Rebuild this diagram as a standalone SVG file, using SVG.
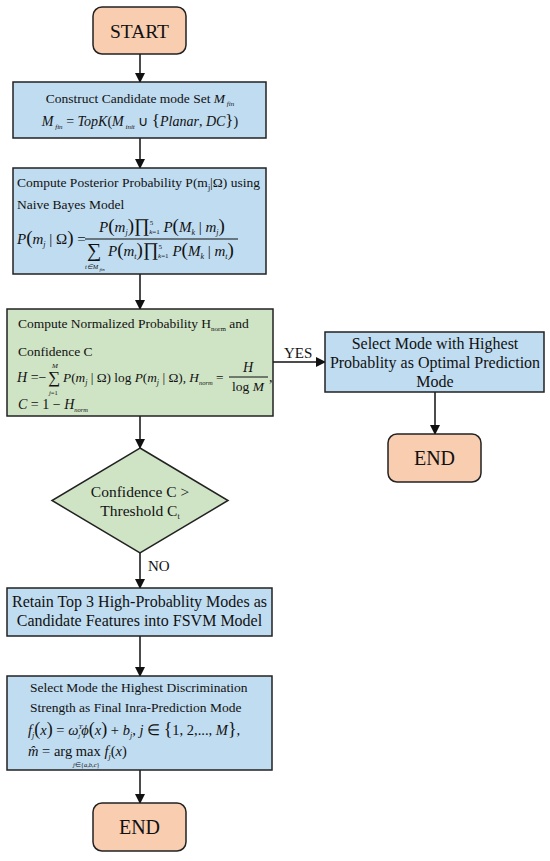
<svg xmlns="http://www.w3.org/2000/svg" width="550" height="861" viewBox="0 0 550 861">
<defs>
<marker id="ah" markerWidth="10" markerHeight="10" refX="9" refY="5" orient="auto" markerUnits="userSpaceOnUse">
<path d="M0,0 L10,5 L0,10 Z" fill="#111"/>
</marker>
<style>
.term{fill:#f8cdb0;stroke:#222;stroke-width:1.5}
.blue{fill:#c0dcf0;stroke:#222;stroke-width:1.5}
.green{fill:#cfe3c5;stroke:#222;stroke-width:1.5}
.t{font-family:"Liberation Serif","Times New Roman",serif;fill:#111}
.m{font-family:"Liberation Serif","Times New Roman",serif;font-style:italic;fill:#111}
.c{stroke:#111;stroke-width:1.5;fill:none;marker-end:url(#ah)}
</style>
</defs>
<rect width="550" height="861" fill="#fff"/>

<g id="connectors">
<line class="c" x1="140" y1="54" x2="140" y2="82"/>
<line class="c" x1="140" y1="138" x2="140" y2="168"/>
<line class="c" x1="140" y1="274" x2="140" y2="309"/>
<line class="c" x1="273" y1="362" x2="325" y2="362"/>
<text class="t" x="284" y="358" font-size="15">YES</text>
<line class="c" x1="435" y1="392" x2="435" y2="434"/>
<line class="c" x1="140" y1="416" x2="140" y2="448"/>
<line class="c" x1="140" y1="553" x2="140" y2="588"/>
<text class="t" x="148" y="571" font-size="15">NO</text>
<line class="c" x1="140" y1="636" x2="140" y2="676"/>
<line class="c" x1="140" y1="770" x2="140" y2="803"/>
</g>

<g id="start">
<rect class="term" x="93" y="7" width="93" height="47" rx="9"/>
<text class="t" x="139.5" y="38" font-size="19.5" text-anchor="middle">START</text>
</g>

<g id="construct">
<rect class="blue" x="13" y="82" width="253" height="56"/>
<text class="t" x="140" y="103" font-size="13.5" text-anchor="middle">Construct Candidate mode Set <tspan class="m">M</tspan><tspan class="m" font-size="7" dy="3"> fin</tspan></text>
<text class="t" x="140" y="126" font-size="14" text-anchor="middle"><tspan class="m">M</tspan><tspan class="m" font-size="7" dy="3"> fin</tspan><tspan dy="-3"> = </tspan><tspan class="m">TopK</tspan>(<tspan class="m">M</tspan><tspan class="m" font-size="7" dy="3"> init</tspan><tspan dy="-3"> ∪ </tspan><tspan font-size="17">{</tspan><tspan class="m">Planar</tspan>, <tspan class="m">DC</tspan><tspan font-size="17">}</tspan>)</text>
</g>

<g id="posterior">
<rect class="blue" x="13" y="168" width="253" height="106"/>
<text class="t" x="17" y="187" font-size="13.5">Compute Posterior Probability P(m<tspan font-size="8" dy="3">j</tspan><tspan dy="-3">|Ω) using</tspan></text>
<text class="t" x="17" y="209" font-size="13.5">Naive Bayes Model</text>
<text class="t" x="17" y="244" font-size="15"><tspan class="m">P</tspan><tspan font-size="19">(</tspan><tspan class="m">m</tspan><tspan class="m" font-size="8" dy="3">j</tspan><tspan dy="-3"> | Ω</tspan><tspan font-size="19">)</tspan> =</text>
<line x1="85" y1="239" x2="238" y2="239" stroke="#111" stroke-width="1"/>
<text class="t" x="162" y="232" font-size="15" text-anchor="middle"><tspan class="m">P</tspan><tspan font-size="19">(</tspan><tspan class="m">m</tspan><tspan class="m" font-size="8" dy="3">j</tspan><tspan font-size="19" dy="-3">)</tspan><tspan font-size="19">∏</tspan><tspan font-size="7" dy="-7">5</tspan><tspan font-size="7" dx="-4" dy="9" class="m">k</tspan><tspan font-size="7" dy="0">=1</tspan><tspan class="m" dy="-2"> P</tspan><tspan font-size="19">(</tspan><tspan class="m">M</tspan><tspan class="m" font-size="8" dy="3">k</tspan><tspan dy="-3"> | </tspan><tspan class="m">m</tspan><tspan class="m" font-size="8" dy="3">j</tspan><tspan font-size="19" dy="-3">)</tspan></text>
<text class="t" x="87" y="257" font-size="20">∑</text>
<text class="m" x="85" y="269" font-size="6.5">t∈M<tspan font-size="5" dy="2"> fin</tspan></text>
<text class="t" x="108" y="256" font-size="15"><tspan class="m">P</tspan><tspan font-size="19">(</tspan><tspan class="m">m</tspan><tspan class="m" font-size="8" dy="3">t</tspan><tspan font-size="19" dy="-3">)</tspan><tspan font-size="19">∏</tspan><tspan font-size="7" dy="-7">5</tspan><tspan font-size="7" dx="-4" dy="9" class="m">k</tspan><tspan font-size="7" dy="0">=1</tspan><tspan class="m" dy="-2"> P</tspan><tspan font-size="19">(</tspan><tspan class="m">M</tspan><tspan class="m" font-size="8" dy="3">k</tspan><tspan dy="-3"> | </tspan><tspan class="m">m</tspan><tspan class="m" font-size="8" dy="3">t</tspan><tspan font-size="19" dy="-3">)</tspan></text>
</g>

<g id="normalize">
<rect class="green" x="7" y="309" width="266" height="107"/>
<text class="t" x="18" y="328" font-size="13.5">Compute Normalized Probability H<tspan font-size="7" dy="3">norm</tspan><tspan dy="-3">  and</tspan></text>
<text class="t" x="18" y="356" font-size="13.5">Confidence C</text>
<text class="t" x="17" y="382" font-size="14"><tspan class="m">H</tspan> =−</text>
<text class="t" x="48" y="383" font-size="17">∑</text>
<text class="m" x="52" y="368" font-size="7">M</text>
<text class="t" x="49" y="395" font-size="6.5"><tspan class="m">j</tspan>=1</text>
<text class="t" x="63" y="382" font-size="13.3"><tspan class="m">P</tspan>(<tspan class="m">m</tspan><tspan class="m" font-size="8" dy="3">j</tspan><tspan dy="-3"> | Ω) log </tspan><tspan class="m">P</tspan>(<tspan class="m">m</tspan><tspan class="m" font-size="8" dy="3">j</tspan><tspan dy="-3"> | Ω), </tspan><tspan class="m">H</tspan><tspan class="m" font-size="6.5" dy="3">norm</tspan><tspan dy="-3"> =</tspan></text>
<line x1="229" y1="377" x2="268" y2="377" stroke="#111" stroke-width="1"/>
<text class="m" x="248" y="372" font-size="14" text-anchor="middle">H</text>
<text class="t" x="248" y="391" font-size="13.5" text-anchor="middle">log  <tspan class="m">M</tspan></text>
<text class="t" x="269" y="382" font-size="14">,</text>
<text class="t" x="18" y="409" font-size="14"><tspan class="m">C</tspan> = 1 − <tspan class="m">H</tspan><tspan class="m" font-size="6.5" dy="3">norm</tspan></text>
</g>

<g id="select-optimal">
<rect class="blue" x="325" y="332" width="219" height="60"/>
<text class="t" x="435" y="349" font-size="16" text-anchor="middle">Select Mode with Highest</text>
<text class="t" x="435" y="368" font-size="16" text-anchor="middle">Probablity as Optimal Prediction</text>
<text class="t" x="435" y="387" font-size="16" text-anchor="middle">Mode</text>
</g>

<g id="end-right">
<rect class="term" x="388" y="434" width="93" height="48" rx="9"/>
<text class="t" x="434.5" y="465" font-size="20" text-anchor="middle">END</text>
</g>

<g id="decision">
<polygon class="green" points="140,448 228,500.5 140,553 52,500.5"/>
<text class="t" x="140" y="497" font-size="15.5" text-anchor="middle">Confidence C &gt;</text>
<text class="t" x="140" y="516" font-size="15.5" text-anchor="middle">Threshold C<tspan font-size="8" dy="3">t</tspan></text>
</g>

<g id="retain">
<rect class="blue" x="7" y="588" width="265" height="48"/>
<text class="t" x="139.5" y="607" font-size="16" text-anchor="middle">Retain Top 3 High-Probablity Modes as</text>
<text class="t" x="139.5" y="626" font-size="16" text-anchor="middle">Candidate Features into FSVM Model</text>
</g>

<g id="select-final">
<rect class="blue" x="7" y="676" width="265" height="94"/>
<text class="t" x="30" y="692" font-size="13.5">Select Mode the Highest Discrimination</text>
<text class="t" x="30" y="712" font-size="13.5">Strength as Final Inra-Prediction Mode</text>
<text class="t" x="28" y="735" font-size="14.5"><tspan class="m">f</tspan><tspan class="m" font-size="8" dy="3">j</tspan><tspan font-size="18" dy="-3">(</tspan><tspan class="m">x</tspan><tspan font-size="18">)</tspan> = <tspan class="m">ω</tspan><tspan class="m" font-size="7" dy="-6">T</tspan><tspan class="m" font-size="7" dx="-4" dy="9">j</tspan><tspan class="m" dx="1" dy="-3">ϕ</tspan><tspan font-size="18">(</tspan><tspan class="m">x</tspan><tspan font-size="18">)</tspan> + <tspan class="m">b</tspan><tspan class="m" font-size="8" dy="3">j</tspan><tspan dy="-3">, </tspan><tspan class="m">j</tspan> ∈ <tspan font-size="18">{</tspan>1, 2,..., <tspan class="m">M</tspan><tspan font-size="18">}</tspan>,</text>
<text class="t" x="28" y="756" font-size="14.5"><tspan class="m">m̂</tspan> = arg  max  <tspan class="m">f</tspan><tspan class="m" font-size="8" dy="3">j</tspan><tspan dy="-3">(</tspan><tspan class="m">x</tspan>)</text>
<text class="t" x="73" y="767" font-size="6.5"><tspan class="m">j</tspan>∈{<tspan class="m">a</tspan>,<tspan class="m">b</tspan>,<tspan class="m">c</tspan>}</text>
</g>

<g id="end-bottom">
<rect class="term" x="93" y="803" width="93" height="48" rx="9"/>
<text class="t" x="139.5" y="834" font-size="20" text-anchor="middle">END</text>
</g>
</svg>
